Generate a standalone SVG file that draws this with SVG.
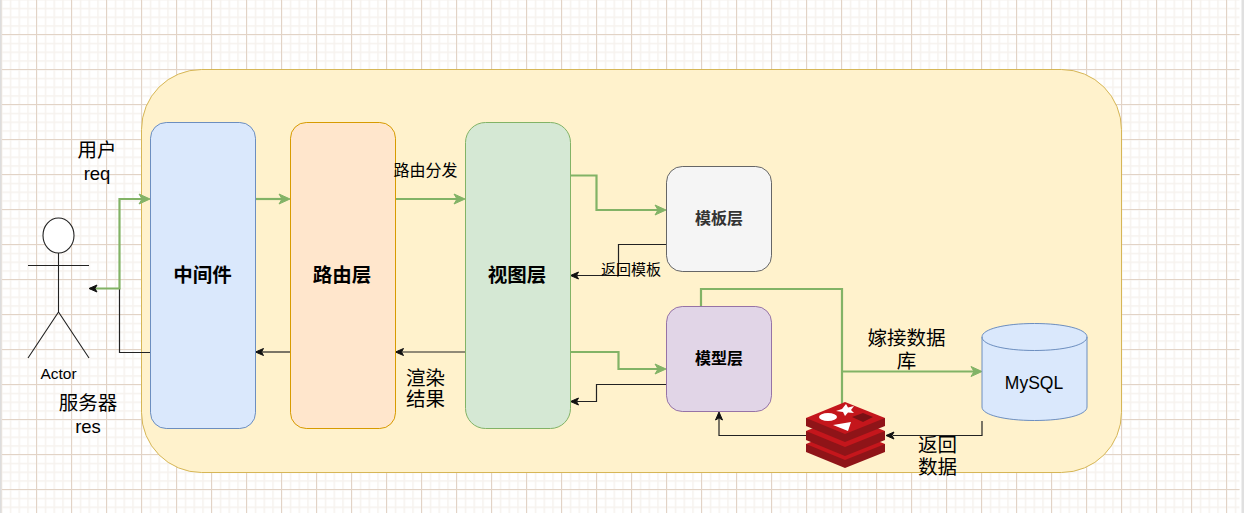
<svg xmlns="http://www.w3.org/2000/svg" width="1244" height="513" viewBox="0 0 1244 513">
<style>
text{font-family:"Liberation Sans","Noto Sans CJK SC",sans-serif;text-anchor:middle;fill:#000}
.b{font-weight:bold;font-size:19.500px}
.m{font-weight:bold;font-size:16px}
.l{font-size:19.500px}
.s{font-size:18.500px}
.g{fill:none;stroke:#82b366;stroke-width:2.2}
.k{fill:none;stroke:#222;stroke-width:1.2}
.a{fill:#82b366;stroke:#82b366}
.h{fill:#111;stroke:#111}
.actor{fill:none;stroke:#222;stroke-width:1.1}
</style>
<defs>
<pattern id="minor" width="8.75" height="8.75" patternUnits="userSpaceOnUse" x="1" y="-1">
<path d="M0.750 0V8.75M0 0.750H8.75" stroke="#f6f2ee" stroke-width="1.5" fill="none"/>
</pattern>
<pattern id="major" width="35" height="35" patternUnits="userSpaceOnUse" x="1" y="-1">
<path d="M0.500 0V35M0 0.500H35" stroke="#e2d3c6" stroke-width="1" fill="none"/>
</pattern>
</defs>
<rect width="1244" height="513" fill="#fff"/>
<rect x="1.500" y="0" width="1238" height="513" fill="url(#minor)"/>
<rect x="1.500" y="0" width="1238" height="513" fill="url(#major)"/>
<rect x="0" y="0" width="1.500" height="513" fill="#ddd"/>
<rect x="1241.500" y="0" width="2.500" height="513" fill="#e0e0e0"/>
<g id="container"><rect x="141.500" y="69.500" width="980" height="403" rx="60" fill="#fff2cc" stroke="#d6b656"/></g>
<g id="actor" class="actor">
<ellipse cx="58.500" cy="235.500" rx="15.500" ry="17.500" fill="#fff"/>
<path d="M58.500 253V312M28 265.500H89M58.500 312L28 358M58.500 312L89 358"/>
<text x="58.500" y="379" style="font-size:15.500px;stroke:none;fill:#000">Actor</text>
</g>
<g id="connectors">
<path class="k" d="M150 352.500H119.500V288.500H96"/>
<path class="g" d="M90 288.500H119.500V199H143"/><path class="a" d="M150 199L139 194L142 199L139 204Z"/>
<path class="h" d="M89 288.500L97 285L95 288.500L97 292Z"/>
<path class="g" d="M255.500 199H283"/><path class="a" d="M290 199L279 194L282 199L279 204Z"/>
<path class="g" d="M395.500 199H458"/><path class="a" d="M465 199L454 194L457 199L454 204Z"/>
<path class="g" d="M570.500 175.500H596.500V210H659"/><path class="a" d="M666 210L655 205L658 210L655 215Z"/>
<path class="k" d="M666.500 244.500H618.500V275.500H577"/><path class="h" d="M570.500 275.500L578.500 272L576.500 275.500L578.500 279Z"/>
<path class="g" d="M570.500 352H618.500V369H659"/><path class="a" d="M666 369L655 364L658 369L655 374Z"/>
<path class="k" d="M666.500 384.500H596.500V401.500H577"/><path class="h" d="M570.500 401.500L578.500 398L576.500 401.500L578.500 405Z"/>
<path class="k" d="M465 352H402"/><path class="h" d="M395.500 352L403.500 348.500L401.500 352L403.500 355.500Z"/>
<path class="k" d="M290 352H262"/><path class="h" d="M255.500 352L263.500 348.500L261.500 352L263.500 355.500Z"/>
<path class="g" d="M701 306V289H842V432"/>
<path class="g" d="M842 371.500H975"/><path class="a" d="M982 371.500L971 366.500L974 371.500L971 376.500Z"/>
<path class="k" d="M982 421V435.500H893"/><path class="h" d="M886 435.500L894 432L892 435.500L894 439Z"/>
<path class="k" d="M806 435.500H719V419"/><path class="h" d="M719 412L715.500 420L719 418L722.500 420Z"/>
</g>
<g id="middleware"><rect x="150.500" y="122.500" width="105" height="306" rx="15.750" fill="#dae8fc" stroke="#6c8ebf"/><text class="b" x="202.500" y="282">中间件</text></g>
<g id="router"><rect x="290.500" y="122.500" width="105" height="306" rx="15.750" fill="#ffe6cc" stroke="#d79b00"/><text class="b" x="342" y="282">路由层</text></g>
<g id="view"><rect x="465.500" y="122.500" width="105" height="306" rx="20" fill="#d5e8d4" stroke="#82b366"/><text class="b" x="517" y="282">视图层</text></g>
<g id="template"><rect x="666.500" y="166.500" width="105" height="105" rx="15.750" fill="#f5f5f5" stroke="#666"/><text class="m" x="719" y="224" style="fill:#333">模板层</text></g>
<g id="model"><rect x="666.500" y="306.500" width="105" height="105" rx="15.750" fill="#e1d5e7" stroke="#9673a6"/><text class="m" x="719" y="364">模型层</text></g>
<g id="mysql">
<path d="M982 337C982 329 1005 323.500 1034.500 323.500S1087 329 1087 337V407C1087 415 1064 420.500 1034.500 420.500S982 415 982 407Z" fill="#dae8fc" stroke="#6c8ebf"/>
<path d="M982 337C982 345 1005 350.500 1034.500 350.500S1087 345 1087 337" fill="none" stroke="#6c8ebf"/>
<text x="1034" y="389" style="font-size:17.500px">MySQL</text>
</g>
<g id="redis">
<path d="M806 444V452L845 468L885 452V444Z" fill="#8f1418"/>
<path d="M806 444L845 428L885 444L845 460Z" fill="#c4161c"/>
<path d="M806 431V440L845 456L885 440V431Z" fill="#8f1418"/>
<path d="M806 431L845 415L885 431L845 447Z" fill="#c4161c"/>
<path d="M806 418V426L845 442L885 426V418Z" fill="#8f1418"/>
<path d="M806 418L845 402L885 418L845 434Z" fill="#c4161c"/>
<ellipse cx="828" cy="417" rx="9" ry="4" fill="#fff"/>
<path d="M846 404L848 407.500L854 406L851 410L854 413L848 412.500L845 416L843 412L836 411L842 409Z" fill="#fff"/>
<path d="M833 425L851 422L848 431Z" fill="#fff"/>
<path d="M852 417L863 413L873 417L863 422Z" fill="#7a1114"/>
</g>
<g id="labels">
<text class="l" x="97" y="157">用户</text>
<text class="s" x="97" y="180">req</text>
<text class="l" x="88" y="410">服务器</text>
<text class="s" x="88" y="433">res</text>
<text x="425.500" y="176" style="font-size:16px">路由分发</text>
<text x="631" y="275" style="font-size:15px">返回模板</text>
<text class="l" x="425.500" y="385">渲染</text>
<text class="l" x="425.500" y="406">结果</text>
<text class="l" x="906.500" y="345">嫁接数据</text>
<text class="l" x="906.500" y="368">库</text>
<text class="l" x="937.500" y="452">返回</text>
<text class="l" x="937.500" y="474">数据</text>
</g>
</svg>
